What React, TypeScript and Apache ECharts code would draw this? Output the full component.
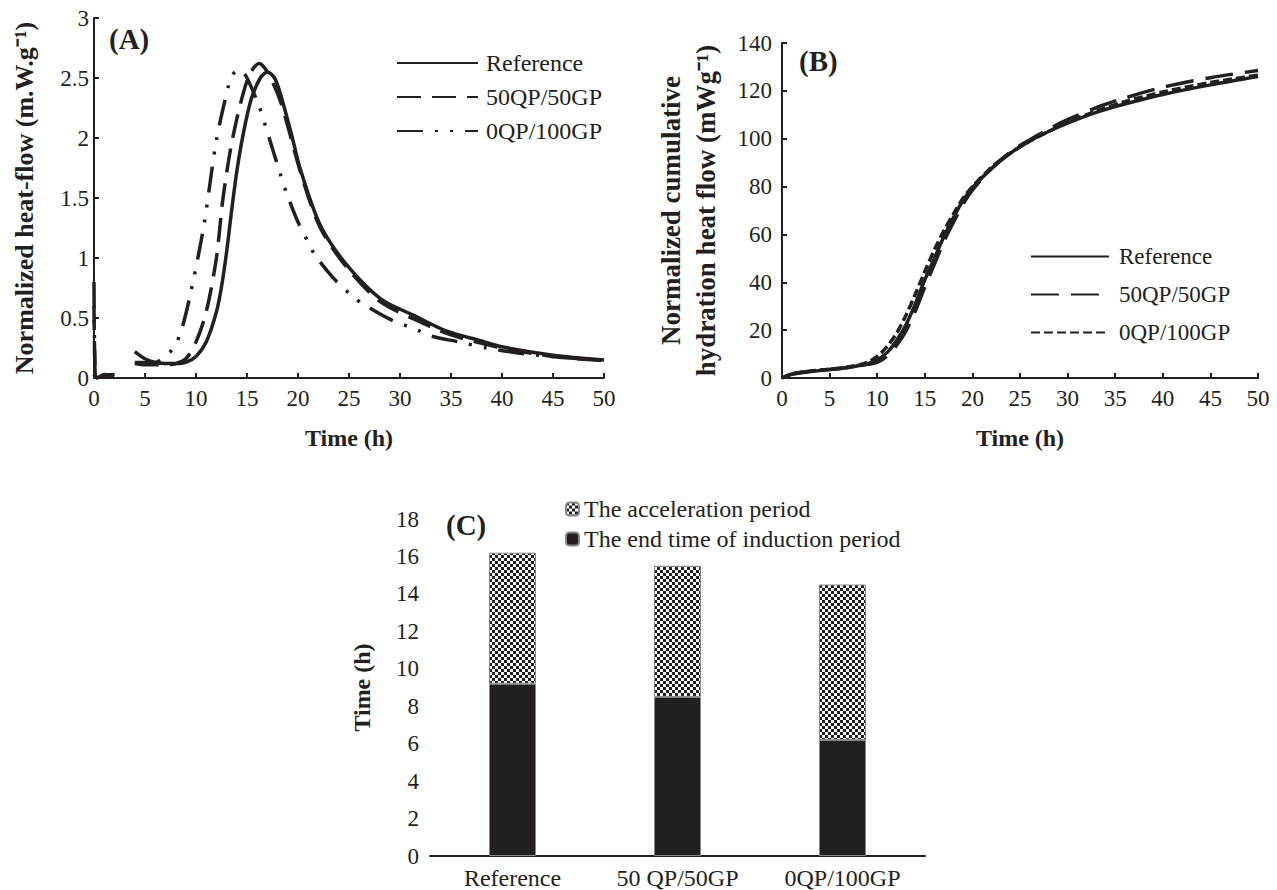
import React, { useEffect, useRef } from "react";
import * as echarts from "echarts";

// ---------- Panel A : normalized heat flow (m.W.g-1) ----------
const refAT = [0, 0.3, 1, 2, 3, 4, 5, 6, 7, 8, 9, 10, 11, 12, 12.5, 13, 13.5, 14, 14.6, 15.4, 16.3, 17.0, 17.7, 18.3, 19.3, 20.3, 22.2, 24.8, 28.1, 31.4, 34.6, 37.9, 40, 45, 50];
const refAV = [0.03, 0.0, 0.03, 0.02, null, 0.22, 0.16, 0.13, 0.12, 0.12, 0.13, 0.18, 0.3, 0.55, 0.76, 1.05, 1.4, 1.72, 2.02, 2.32, 2.5, 2.55, 2.5, 2.36, 2.05, 1.72, 1.27, 0.94, 0.66, 0.52, 0.39, 0.31, 0.26, 0.19, 0.15];

const q50AT = [0, 0.1, 0.3, 0.8, 2, 3, 4, 5, 6, 7, 8, 9, 10, 11, 12, 12.65, 13.6, 15.1, 16.2, 17.0, 18.3, 20.3, 22.2, 24.8, 28.0, 31.4, 35, 40, 45, 50];
const q50AV = [0.6, 0.1, 0.0, 0.02, 0.03, null, 0.12, 0.11, 0.11, 0.11, 0.12, 0.16, 0.3, 0.55, 1.0, 1.5, 2.0, 2.5, 2.62, 2.55, 2.3, 1.7, 1.25, 0.92, 0.64, 0.49, 0.36, 0.25, 0.18, 0.145];

const q0AT = [0, 0.05, 0.2, 1, 2, 3, 4, 5, 6, 6.5, 7.7, 8.5, 9.4, 10.75, 12, 13.2, 13.6, 14.3, 15, 16.2, 16.7, 18.3, 18.8, 20, 21, 21.7, 23.5, 25.5, 26.7, 29, 31.7, 33, 35.8, 38.5, 42.4, 46, 50];
const q0AV = [0.8, 0.3, 0.0, 0.01, 0.02, null, 0.13, 0.13, 0.13, 0.15, 0.24, 0.38, 0.68, 1.26, 1.98, 2.44, 2.53, 2.57, 2.5, 2.26, 2.13, 1.69, 1.56, 1.3, 1.13, 1.02, 0.83, 0.67, 0.6, 0.49, 0.4, 0.35, 0.3, 0.25, 0.2, 0.17, 0.15];

// ---------- Panel B : normalized cumulative hydration heat (mWg-1) ----------
const bT = [0, 1, 2, 3, 4, 5, 6, 7, 8, 9, 10, 11, 12, 13, 14, 15, 16, 17, 18, 19, 20, 22, 24, 26, 28, 30, 33, 36, 40, 45, 50];
const refB = [0, 1.5, 2.2, 2.7, 3.1, 3.5, 3.9, 4.4, 5.1, 6.0, 7.5, 10.5, 15.5, 22, 31, 41, 50, 59, 67, 74, 79.5, 87.5, 94, 99, 103, 106.5, 111, 114.5, 118.5, 122.5, 126];
const q50B = [0, 1.6, 2.3, 2.8, 3.2, 3.6, 4.0, 4.5, 5.0, 5.7, 6.5, 9, 13.5, 19.5, 28, 38, 47.5, 57, 65, 72.5, 78.5, 87.5, 94.5, 99.5, 104, 108, 113, 117, 121.5, 125.5, 128.5];
const q0B = [0, 1.7, 2.4, 2.9, 3.3, 3.7, 4.1, 4.7, 5.4, 6.6, 9, 13, 18.5, 26, 35, 44.5, 53.5, 61.5, 68.5, 75, 80, 88, 94, 99, 103, 107, 111.5, 115.5, 119.5, 123.5, 126.5];

// ---------- Panel C : hydration periods (h) ----------
const categoriesC = ["Reference", "50 QP/50GP", "0QP/100GP"];
const inductionEnd = [9.2, 8.5, 6.2];
const accelerationPeriod = [7.0, 7.0, 8.3];

const seriesNames = ["Reference", "50QP/50GP", "0QP/100GP"];
const ZW = "\u200b"; // keeps panel B legend names distinct from panel A

const INK = "#231f20";
const FONT = "'Liberation Serif', 'Times New Roman', serif";

function pairs(t: number[], v: (number | null)[]) {
  return t.map((x, i) => [x, v[i] == null ? "-" : v[i]]);
}

function makePattern() {
  const c = document.createElement("canvas");
  c.width = 6;
  c.height = 6;
  const ctx = c.getContext("2d")!;
  ctx.fillStyle = "#ffffff";
  ctx.fillRect(0, 0, 6, 6);
  ctx.fillStyle = INK;
  ctx.fillRect(0, 0, 3, 3);
  ctx.fillRect(3, 3, 3, 3);
  return { image: c, repeat: "repeat", imageWidth: 6, imageHeight: 6 };
}

export default function App() {
  const ref = useRef<HTMLDivElement>(null);
  useEffect(() => {
    if (!ref.current) return;
    const chart = echarts.init(ref.current, undefined, { renderer: "svg" });
    const pattern = makePattern();

    const labelStyle = { color: INK, fontFamily: FONT, fontSize: 23 };
    const axisCommon = {
      axisLine: { lineStyle: { color: INK, width: 2 } },
      axisTick: { inside: true, length: 5, lineStyle: { color: INK, width: 2 } },
      splitLine: { show: false },
      nameLocation: "middle",
    };
    const nameStyle = (size: number) => ({ color: INK, fontFamily: FONT, fontSize: size, fontWeight: "bold" });

    const lineBase = { type: "line", showSymbol: false, symbol: "none", smooth: 0.3, connectNulls: false };
    const legendLine = {
      orient: "vertical",
      itemHeight: 14,
      itemStyle: { opacity: 0 },
    };

    const option: any = {
      animation: false,
      backgroundColor: "#ffffff",
      grid: [
        { left: 94, top: 18, width: 510, height: 360 },
        { left: 782, top: 43, width: 476, height: 335 },
        { left: 430, top: 519, width: 495, height: 338 },
      ],
      xAxis: [
        { ...axisCommon, gridIndex: 0, type: "value", min: 0, max: 50, interval: 5, name: "Time (h)", nameGap: 48, nameTextStyle: nameStyle(24), axisLabel: { ...labelStyle, margin: 9 } },
        { ...axisCommon, gridIndex: 1, type: "value", min: 0, max: 50, interval: 5, name: "Time (h)", nameGap: 48, nameTextStyle: nameStyle(24), axisLabel: { ...labelStyle, margin: 9 } },
        { ...axisCommon, gridIndex: 2, type: "category", data: categoriesC, axisTick: { show: false }, axisLabel: { ...labelStyle, fontSize: 24, margin: 10 } },
      ],
      yAxis: [
        { ...axisCommon, gridIndex: 0, type: "value", min: 0, max: 3, interval: 0.5, name: "Normalized heat-flow (m.W.g⁻¹)", nameGap: 57, nameTextStyle: nameStyle(26), axisLabel: { ...labelStyle, margin: 5 } },
        { ...axisCommon, gridIndex: 1, type: "value", min: 0, max: 140, interval: 20, name: "Normalized cumulative\nhydration heat flow (mWg⁻¹)", nameGap: 59, nameTextStyle: { ...nameStyle(27), lineHeight: 35 }, axisLabel: { ...labelStyle, margin: 10 } },
        { ...axisCommon, gridIndex: 2, type: "value", min: 0, max: 18, interval: 2, name: "Time (h)", nameGap: 56, nameTextStyle: nameStyle(24), axisLabel: { ...labelStyle, margin: 11 } },
      ],
      legend: [
        { ...legendLine, left: 391, top: 46, itemWidth: 81, itemGap: 10, textStyle: { color: INK, fontFamily: FONT, fontSize: 24, padding: [0, 0, 0, 3] }, data: seriesNames },
        { ...legendLine, left: 1025, top: 240, itemWidth: 78, itemGap: 15, textStyle: { color: INK, fontFamily: FONT, fontSize: 23, padding: [0, 0, 0, 5] }, data: seriesNames.map((n) => n + ZW) },
        {
          orient: "vertical",
          left: 560,
          top: 492,
          itemWidth: 13,
          itemHeight: 13,
          itemGap: 6,
          textStyle: { color: INK, fontFamily: FONT, fontSize: 24, padding: [0, 0, 0, 0] },
          data: ["The acceleration period", "The end time of induction period"],
        },
      ],
      graphic: [
        { type: "text", left: 109, top: 24, style: { text: "(A)", font: `bold 29px ${FONT}`, fill: INK } },
        { type: "text", left: 799, top: 46, style: { text: "(B)", font: `bold 29px ${FONT}`, fill: INK } },
        { type: "text", left: 446, top: 510, style: { text: "(C)", font: `bold 29px ${FONT}`, fill: INK } },
      ],
      series: [
        { ...lineBase, name: "Reference", xAxisIndex: 0, yAxisIndex: 0, data: pairs(refAT, refAV), lineStyle: { color: INK, width: 3.5, type: "solid" }, itemStyle: { color: INK } },
        { ...lineBase, name: "50QP/50GP", xAxisIndex: 0, yAxisIndex: 0, data: pairs(q50AT, q50AV), lineStyle: { color: INK, width: 3.5, type: [24, 11] }, itemStyle: { color: INK } },
        { ...lineBase, name: "0QP/100GP", xAxisIndex: 0, yAxisIndex: 0, data: pairs(q0AT, q0AV), lineStyle: { color: INK, width: 3.5, type: [26, 12, 3, 12, 3, 12] }, itemStyle: { color: INK } },
        { ...lineBase, name: "Reference" + ZW, xAxisIndex: 1, yAxisIndex: 1, data: pairs(bT, refB), lineStyle: { color: INK, width: 3.5, type: "solid" }, itemStyle: { color: INK } },
        { ...lineBase, name: "50QP/50GP" + ZW, xAxisIndex: 1, yAxisIndex: 1, data: pairs(bT, q50B), lineStyle: { color: INK, width: 3.5, type: [28, 12] }, itemStyle: { color: INK } },
        { ...lineBase, name: "0QP/100GP" + ZW, xAxisIndex: 1, yAxisIndex: 1, data: pairs(bT, q0B), lineStyle: { color: INK, width: 3.5, type: [9, 4] }, itemStyle: { color: INK } },
        { type: "bar", name: "The end time of induction period", xAxisIndex: 2, yAxisIndex: 2, stack: "c", barWidth: 47, data: inductionEnd, itemStyle: { color: INK, borderColor: "#888", borderWidth: 1 } },
        { type: "bar", name: "The acceleration period", xAxisIndex: 2, yAxisIndex: 2, stack: "c", barWidth: 47, data: accelerationPeriod, itemStyle: { color: pattern, borderColor: "#888", borderWidth: 1 } },
      ],
    };
    chart.setOption(option);
    return () => chart.dispose();
  }, []);
  return <div ref={ref} style={{ position: "absolute", left: 0, top: 0, width: 1277, height: 890 }} />;
}
